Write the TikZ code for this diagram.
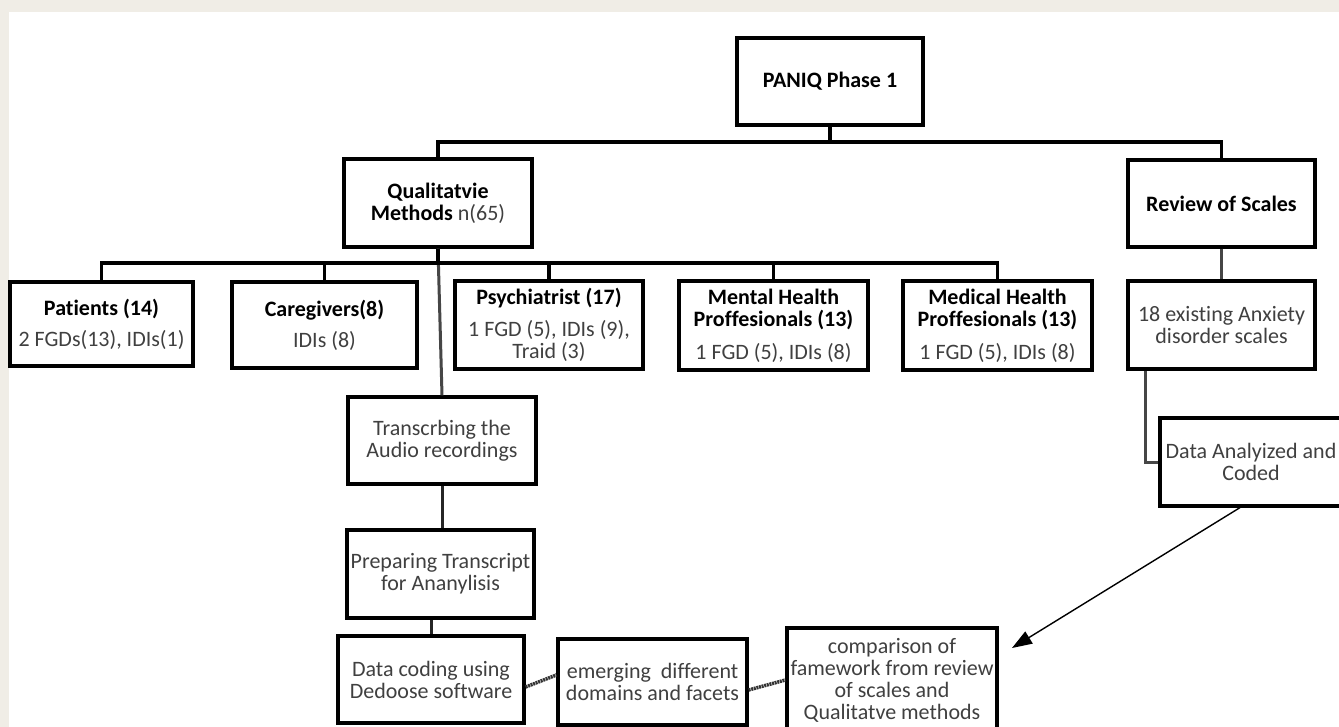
\documentclass[tikz,border=0pt]{standalone}
\usepackage{fontspec}
\setmainfont{Carlito}[Ligatures=NoCommon]
\usetikzlibrary{arrows.meta,calc}
\definecolor{beige}{RGB}{240,237,230}
\definecolor{txtgray}{RGB}{64,64,64}
\newcommand\boldhd[1]{{\bfseries\color{black}#1}}
\begin{document}
\begin{tikzpicture}[x=1pt,y=-1pt,
  box/.style={draw=black, line width=3.2pt, fill=white, inner sep=0pt, align=center,
    font=\fontsize{22}{22}\selectfont, text=txtgray},
  conn/.style={draw=black, line width=3.2pt},
  gconn/.style={draw=gray!55!black, line width=3pt},
  dconn/.style={draw=black!85, line width=3pt},
  hconn/.style={draw=black!80, line width=3.5pt, dash pattern=on 2pt off 0.7pt},
  arr/.style={draw=black, line width=1.4pt, -{Triangle[length=20pt,width=14pt]}}
]
\useasboundingbox (0,0) rectangle (1339,727);
\clip (0,0) rectangle (1339,727);
\fill[beige] (0,0) rectangle (1339,727);
\fill[white] (9,12) rectangle (1339,727);

% nodes
\node[box, minimum width=186pt, minimum height=87pt] (paniq) at (830,81.5) {\boldhd{PANIQ Phase 1}};
\node[box, minimum width=188pt, minimum height=88pt] (qual) at (438,203) {\boldhd{Qualitatvie}\\\boldhd{Methods} n(65)};
\node[box, minimum width=187pt, minimum height=87pt] (review) at (1221.5,203.5) {\boldhd{Review of Scales}};

\node[box, minimum width=183pt, minimum height=84pt] (patients) at (101.5,324) {\boldhd{Patients (14)}\\[9pt]2 FGDs(13), IDIs(1)};
\node[box, minimum width=185pt, minimum height=86pt] (caregivers) at (324.5,325) {\boldhd{Caregivers(8)}\\[9pt]IDIs (8)};
\node[box, minimum width=188pt, minimum height=88pt] (psych) at (549,325) {\boldhd{Psychiatrist (17)}\\[10pt]1 FGD (5), IDIs (9),\\Traid (3)};
\node[box, minimum width=189pt, minimum height=89pt] (mental) at (773.5,325.5) {\boldhd{Mental Health}\\\boldhd{Proffesionals (13)}\\[11pt]1 FGD (5), IDIs (8)};
\node[box, minimum width=189pt, minimum height=89pt] (medical) at (997.5,325.5) {\boldhd{Medical Health}\\\boldhd{Proffesionals (13)}\\[11pt]1 FGD (5), IDIs (8)};
\node[box, minimum width=187pt, minimum height=88pt] (scales) at (1221.5,325) {18 existing Anxiety\\disorder scales};

\node[box, minimum width=188pt, minimum height=87pt] (trans) at (442,440.5) {Transcrbing the\\Audio recordings};
\node[box, minimum width=187pt, minimum height=88pt] (prep) at (440.5,574) {Preparing Transcript\\for Ananylisis};
\node[box, minimum width=186pt, minimum height=87pt] (coding) at (431,679.5) {Data coding using\\Dedoose software};
\node[box, minimum width=189pt, minimum height=86pt] (emerging) at (652.5,682) {emerging\ \ different\\domains and facets};
\node[box, minimum width=210pt, minimum height=104pt] (compare) at (892,680) {comparison of\\famework from review\\of scales and\\Qualitatve methods};
\node[box, minimum width=182pt, minimum height=88pt] (dataan) at (1251,462) {Data Analyized and\\Coded};

\coordinate (h1) at (0,142);
\coordinate (h2) at (0,263);
\coordinate (tip) at (1012,648);

% gray long connector
\draw[gconn] (qual.south) -- (trans.north);

% top level
\draw[conn] (paniq.south) -- (paniq.south |- h1);
\draw[conn] (qual.north) -- (qual.north |- h1) -| (review.north);

% second level
\draw[conn] (qual.south) -- (qual.south |- h2);
\draw[conn] (patients.north) -- (patients.north |- h2) -| (medical.north);
\draw[conn] (caregivers.north) -- (caregivers.north |- h2);
\draw[conn] (psych.north) -- (psych.north |- h2);
\draw[conn] (mental.north) -- (mental.north |- h2);

% right branch
\draw[gconn] (review.south) -- (scales.north);
\draw[gconn] (dataan.west) -| ([xshift=19pt]scales.south west);

% left chain
\draw[dconn] (trans.south) -- (trans.south |- prep.north);
\draw[dconn] (coding.north) -- (coding.north |- prep.south);

% bottom chain
\draw[hconn] ([yshift=-7.5pt]coding.east) -- ([yshift=7pt]emerging.west);
\draw[hconn] ([yshift=-8pt]emerging.east) -- (compare.west);

% arrow
\draw[arr] ([xshift=-11pt]dataan.south) -- (tip);
\end{tikzpicture}
\end{document}
